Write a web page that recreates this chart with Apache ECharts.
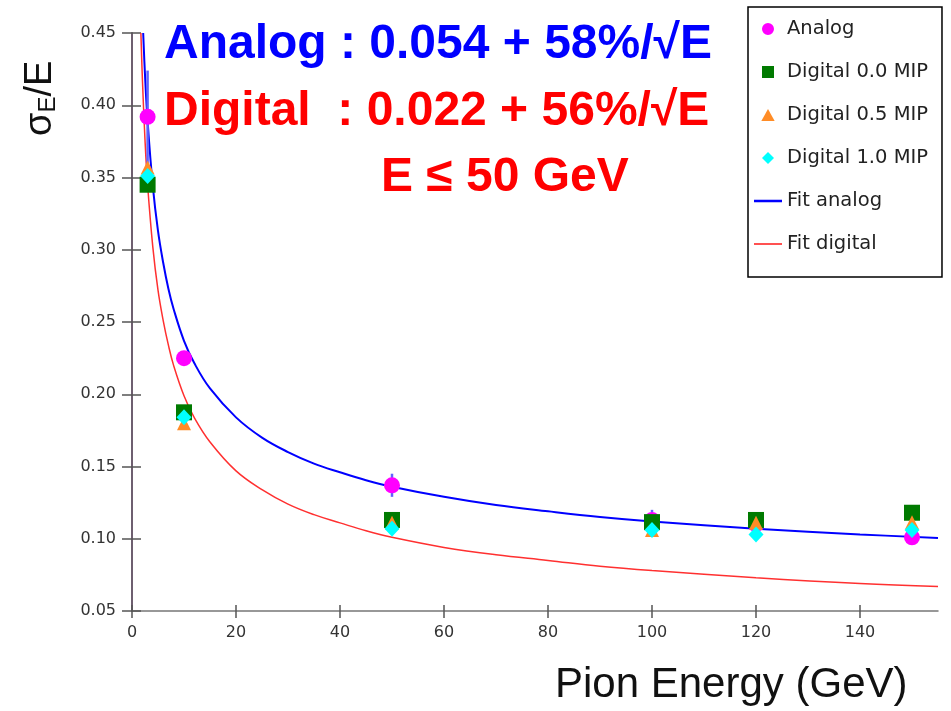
<!DOCTYPE html>
<html>
<head>
<meta charset="utf-8">
<script src="https://cdn.jsdelivr.net/npm/echarts@6/dist/echarts.min.js"></script>
<style>
  html, body { margin: 0; padding: 0; background: #fff; }
  #main { width: 951px; height: 711px; }
</style>
</head>
<body>
<div id="main"></div>
<script>
// beam energies (GeV)
var energies = [3, 10, 50, 100, 120, 150];

// sigma_E / E per mode
var analog = [0.392, 0.225, 0.137, 0.113, 0.110, 0.101];
var digital00 = [0.345, 0.1875, 0.113, 0.1115, 0.113, 0.118];
var digital05 = [0.357, 0.180, 0.111, 0.106, 0.111, 0.1115];
var digital10 = [0.351, 0.184, 0.107, 0.106, 0.103, 0.106];

// analog error bars (half width)
var analogErr = [0.032, 0.004, 0.008, 0.007, 0.004, 0.004];

// fit curves
var fitAnalogE = [2.15, 2.5, 3, 4, 5, 6, 7, 8, 10, 12, 15, 20, 25, 30, 35, 40, 45, 50, 60, 70, 80, 90, 100, 120, 140, 155];
var fitAnalogY = [0.45, 0.421, 0.389, 0.344, 0.313, 0.291, 0.273, 0.259, 0.237, 0.2214, 0.204, 0.184, 0.170, 0.160, 0.152, 0.146, 0.1405, 0.136, 0.129, 0.1233, 0.119, 0.1151, 0.112, 0.107, 0.103, 0.1006];
var fitDigitalE = [1.71, 2, 2.5, 3, 4, 5, 6, 7, 8, 10, 12, 15, 20, 25, 30, 35, 40, 45, 50, 60, 70, 80, 90, 100, 120, 140, 155];
var fitDigitalY = [0.45, 0.418, 0.376, 0.345, 0.302, 0.272, 0.251, 0.234, 0.220, 0.199, 0.1837, 0.167, 0.147, 0.134, 0.124, 0.1167, 0.111, 0.1055, 0.101, 0.094, 0.0889, 0.085, 0.081, 0.078, 0.073, 0.069, 0.067];

// axis tick labels
var xTicks = [0, 20, 40, 60, 80, 100, 120, 140];

function pairs(xs, ys) {
    return xs.map(function (x, i) { return [x, ys[i]]; });
}

var chart = echarts.init(document.getElementById('main'));

var tickFont = { fontSize: 16, color: '#333', fontFamily: 'DejaVu Sans' };
var hiddenLine = { show: true, lineStyle: { opacity: 0 } };

var option = {
    backgroundColor: '#fff',
    animation: false,
    grid: { left: 132, right: 13, top: 33, bottom: 100 },
    xAxis: [{
        type: 'value',
        min: 0,
        max: 155,
        axisLine: { lineStyle: { color: '#777', width: 1.5 } },
        axisTick: { length: 7, customValues: xTicks, lineStyle: { color: '#555', width: 1.5 } },
        axisLabel: Object.assign({ margin: 14, customValues: xTicks }, tickFont),
        splitLine: { show: false }
    }, {
        // inner half of the crossing ticks
        type: 'value',
        position: 'bottom',
        min: 0,
        max: 155,
        axisLine: hiddenLine,
        axisTick: { show: true, inside: true, length: 6, customValues: xTicks, lineStyle: { color: '#555', width: 1.5 } },
        axisLabel: { show: false },
        splitLine: { show: false }
    }],
    yAxis: [{
        type: 'value',
        min: 0.05,
        max: 0.45,
        interval: 0.05,
        axisLine: { show: true, lineStyle: { color: '#6e5f70', width: 2 } },
        axisTick: { show: true, length: 10, lineStyle: { color: '#555', width: 1.5 } },
        axisLabel: Object.assign({
            margin: 16,
            formatter: function (v) { return v.toFixed(2); }
        }, tickFont),
        splitLine: { show: false }
    }, {
        type: 'value',
        position: 'left',
        min: 0.05,
        max: 0.45,
        interval: 0.05,
        axisLine: hiddenLine,
        axisTick: { show: true, inside: true, length: 9, lineStyle: { color: '#555', width: 1.5 } },
        axisLabel: { show: false },
        splitLine: { show: false }
    }],
    legend: {
        orient: 'vertical',
        left: 748,
        top: 7,
        padding: [12, 14, 23, 6],
        borderColor: '#000',
        borderWidth: 1.5,
        itemWidth: 28,
        itemHeight: 12,
        itemGap: 23,
        symbolKeepAspect: true,
        textStyle: { fontSize: 19.5, color: '#222', fontFamily: 'DejaVu Sans' },
        data: [
            { name: 'Analog', icon: 'path://M6,1A5,5 0 1,1 5.99,1Z' },
            { name: 'Digital 0.0 MIP', icon: 'path://M0,0H10V10H0Z' },
            { name: 'Digital 0.5 MIP', icon: 'path://M5,0L10,9H0Z' },
            { name: 'Digital 1.0 MIP', icon: 'path://M5,0L10,5L5,10L0,5Z' },
            { name: 'Fit analog', icon: 'path://M0,0H40V3.6H0Z' },
            { name: 'Fit digital', icon: 'path://M0,0H40V2.4H0Z' }
        ]
    },
    graphic: [
        {
            type: 'text', left: 164, top: 21,
            style: { text: 'Analog : 0.054 + 58%/√E', fill: '#0000ff', font: 'bold 48px "Liberation Sans"' }
        },
        {
            type: 'text', left: 164, top: 88,
            style: { text: 'Digital  : 0.022 + 56%/√E', fill: '#ff0000', font: 'bold 48px "Liberation Sans"' }
        },
        {
            type: 'text', left: 381, top: 154,
            style: { text: 'E ≤ 50 GeV', fill: '#ff0000', font: 'bold 48px "Liberation Sans"' }
        },
        {
            type: 'text', left: 555, top: 664,
            style: { text: 'Pion Energy (GeV)', fill: '#111', font: '42px "Liberation Sans"' }
        },
        {
            type: 'text', x: 21, y: 136, rotation: Math.PI / 2,
            style: {
                text: '{a|σ}{b|E}{a|/E}',
                fill: '#111',
                rich: {
                    a: { fontSize: 38, fontFamily: 'Liberation Sans', fill: '#111' },
                    b: { fontSize: 24, fontFamily: 'Liberation Sans', fill: '#111', padding: [15, 0, 0, 0] }
                }
            }
        }
    ],
    series: [
        {
            name: 'Fit analog',
            type: 'line',
            data: pairs(fitAnalogE, fitAnalogY),
            smooth: 0.4,
            symbol: 'none',
            showSymbol: false,
            lineStyle: { color: '#0000ff', width: 2 },
            itemStyle: { color: '#0000ff' },
            z: 2
        },
        {
            name: 'Fit digital',
            type: 'line',
            data: pairs(fitDigitalE, fitDigitalY),
            smooth: 0.4,
            symbol: 'none',
            showSymbol: false,
            lineStyle: { color: '#ff3030', width: 1.5 },
            itemStyle: { color: '#ff3030' },
            z: 2
        },
        {
            name: 'Analog err',
            type: 'custom',
            data: energies.map(function (e, i) { return [e, analog[i] - analogErr[i], analog[i] + analogErr[i]]; }),
            renderItem: function (params, api) {
                var lo = api.coord([api.value(0), api.value(1)]);
                var hi = api.coord([api.value(0), api.value(2)]);
                return {
                    type: 'line',
                    shape: { x1: lo[0], y1: lo[1], x2: hi[0], y2: hi[1] },
                    style: { stroke: '#6060ff', lineWidth: 2.5 }
                };
            },
            z: 3
        },
        {
            name: 'Analog',
            type: 'scatter',
            data: pairs(energies, analog),
            symbol: 'circle',
            symbolSize: 16,
            itemStyle: { color: '#ff00ff', opacity: 1 },
            z: 4
        },
        {
            name: 'Digital 0.0 MIP',
            type: 'scatter',
            data: pairs(energies, digital00),
            symbol: 'rect',
            symbolSize: 16,
            itemStyle: { color: '#007a00', opacity: 1 },
            z: 5
        },
        {
            name: 'Digital 0.5 MIP',
            type: 'scatter',
            data: pairs(energies, digital05),
            symbol: 'triangle',
            symbolSize: 14,
            itemStyle: { color: '#ff8c26', opacity: 1 },
            z: 6
        },
        {
            name: 'Digital 1.0 MIP',
            type: 'scatter',
            data: pairs(energies, digital10),
            symbol: 'diamond',
            symbolSize: [15, 16],
            itemStyle: { color: '#00ffff', opacity: 1 },
            z: 7
        }
    ]
};

chart.setOption(option);
</script>
</body>
</html>
